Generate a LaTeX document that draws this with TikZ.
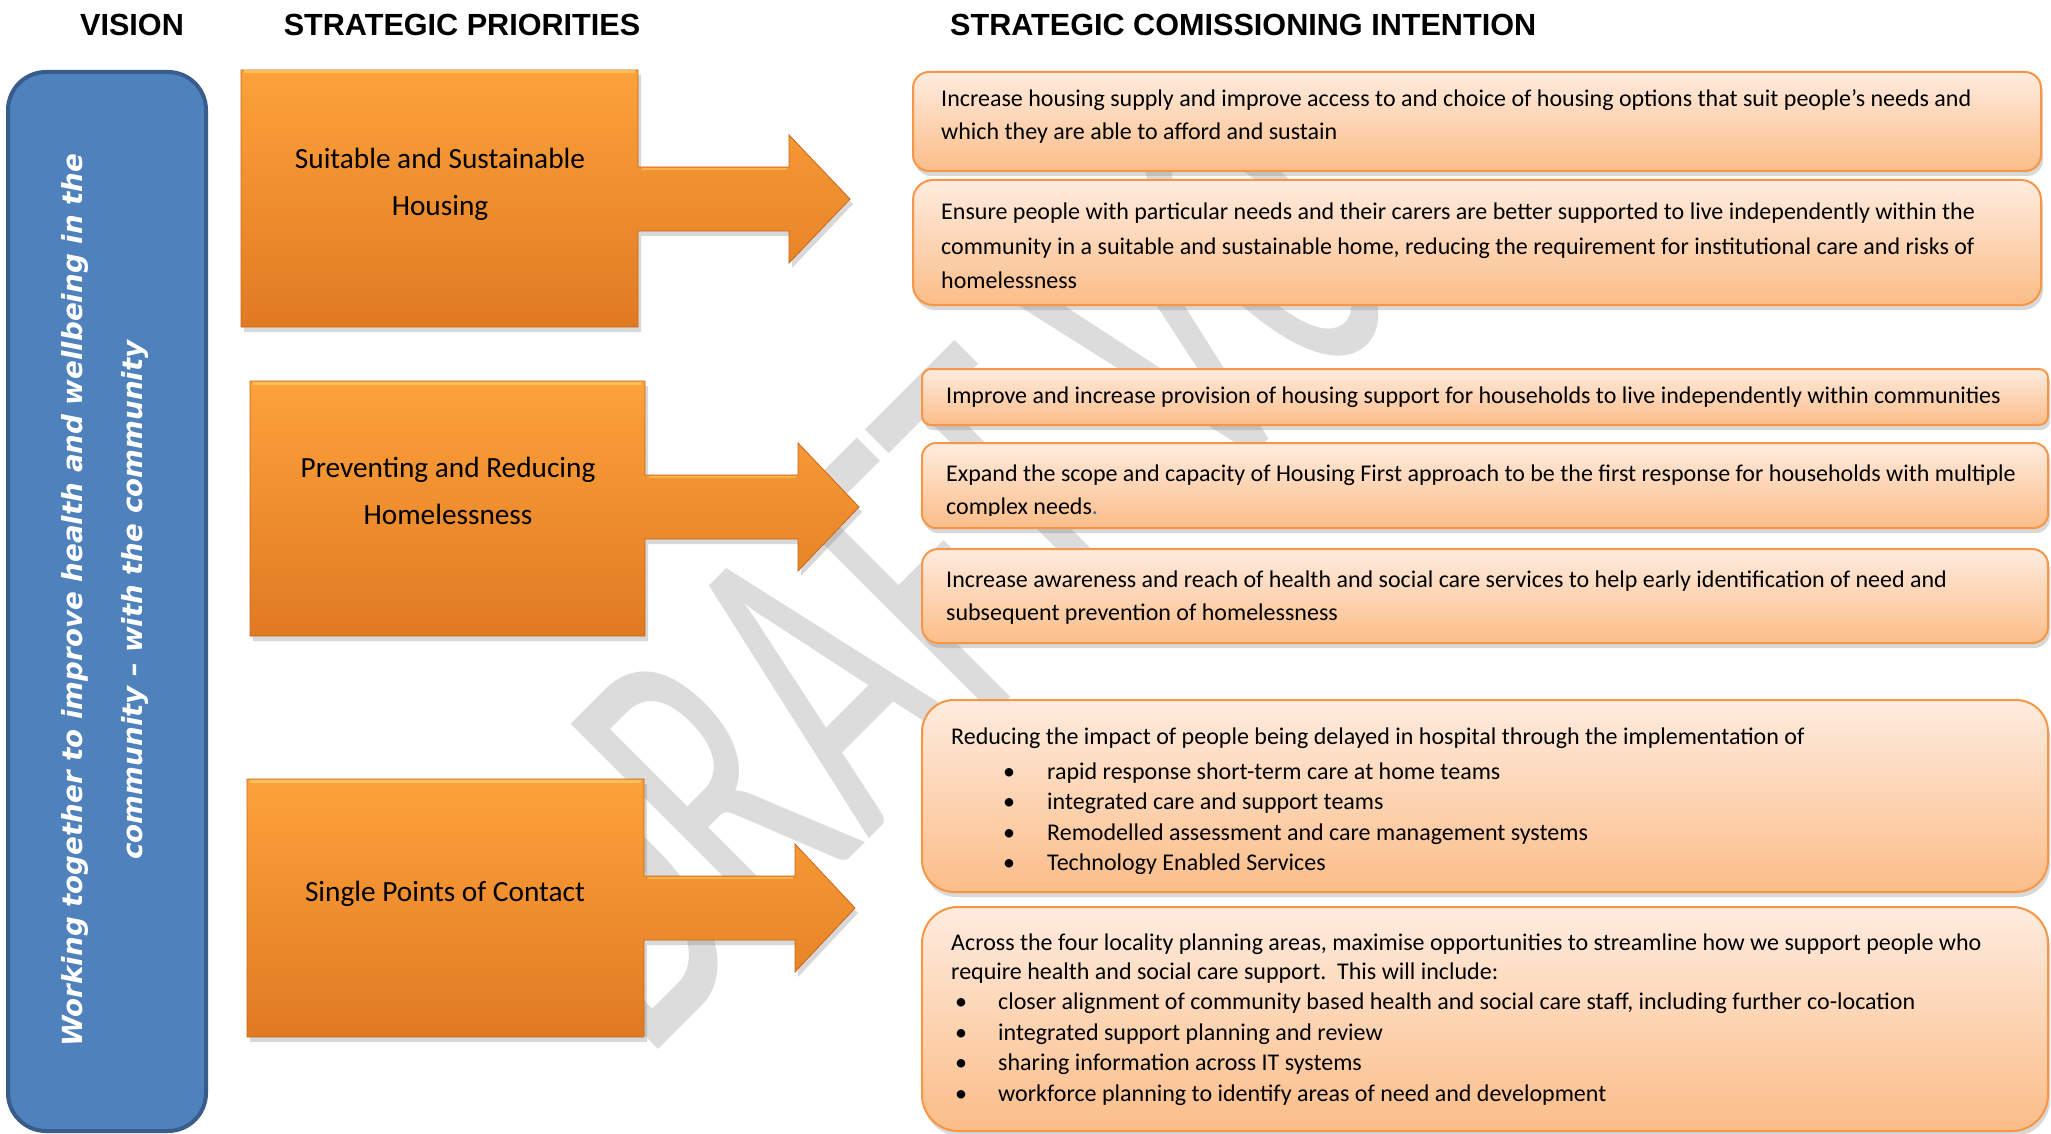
\documentclass[tikz,border=0pt]{standalone}
\usepackage{graphicx}
\usepackage{fontspec}
\setmainfont{Carlito}
\newfontfamily\hdrfont{Liberation Sans}
\newfontfamily\visfont{DejaVu Sans}
\usetikzlibrary{shadows}

\definecolor{visblue}{HTML}{4F81BD}
\definecolor{visborder}{HTML}{385D8A}
\definecolor{orTop}{HTML}{FDA23B}
\definecolor{orBot}{HTML}{E07A22}
\definecolor{orEdge}{HTML}{C8661A}
\definecolor{orHi}{HTML}{FDC862}
\definecolor{pkTop}{HTML}{FEECDF}
\definecolor{pkBot}{HTML}{FBBD88}
\definecolor{pkLine}{HTML}{F79646}
\definecolor{wmgray}{HTML}{DCDCDC}
\definecolor{dotblue}{HTML}{2E74B5}

\newcommand\prioshape[8]{%
  \path[prio] (#1,#2) -- (#3,#2) -- (#3,#5-32) -- (#6,#5-32) -- (#6,#5-64) -- (#7,#5)
    -- (#6,#5+64) -- (#6,#5+32) -- (#3,#5+32) -- (#3,#4) -- (#1,#4) -- cycle;
  \draw[orHi, line width=3, opacity=0.8] (#1+3,#2+2) -- (#3-3,#2+2);
  \draw[orHi, line width=2, opacity=0.6] (#3+4,#5-30) -- (#6-2,#5-30);
  \coordinate (#8) at (#7,#5);
}

\tikzset{
  hdr/.style={font=\hdrfont\bfseries\fontsize{30.6}{36}\selectfont, inner sep=0},
  prio/.style={top color=orTop, bottom color=orBot, draw=orEdge, line width=0.8,
    drop shadow={shadow xshift=3pt, shadow yshift=-5pt, opacity=0.3}},
  priotext/.style={font=\fontsize{29.3}{47}\selectfont, inner sep=0, anchor=base},
  tbox/.style={draw=pkLine, line width=2, top color=pkTop, bottom color=pkBot,
    drop shadow={shadow xshift=2pt, shadow yshift=-5pt, opacity=0.3}, inner sep=0},
  ttext/.style={font=\fontsize{24}{34}\selectfont, inner sep=0, anchor=base west},
}

\begin{document}
\begin{tikzpicture}[x=1pt,y=-1pt]
\useasboundingbox (0,0) rectangle (2051,1134);
\fill[white] (0,0) rectangle (2051,1134);

% watermark
\begin{scope}
\clip (0,0) rectangle (2051,1134);
\node[text=wmgray, font=\fontsize{455}{455}\selectfont, rotate=45, anchor=base west, inner sep=0]
  (wmark) at (645,1063) {\scalebox{0.6}[1]{DRAFT V0}};
\end{scope}

% headers
\node[hdr, anchor=base] (hvision) at (132,36) {VISION};
\node[hdr, anchor=base] (hprio) at (462,36) {STRATEGIC PRIORITIES};
\node[hdr, anchor=base west] (hintent) at (950,36) {STRATEGIC COMISSIONING INTENTION};

% vision box
\node[draw=visborder, line width=4, fill=visblue, rounded corners=38,
  minimum width=198, minimum height=1059, inner sep=0] (visbox) at (107,601.5) {};
\node[text=white, rotate=90, align=center,
  font=\visfont\bfseries\itshape\fontsize{27.7}{60}\selectfont] (vistext) at (105,600)
  {Working together to improve health and wellbeing in the\\community – with the community};

% priority shapes
\prioshape{241}{70}{638}{327}{199}{789}{850}{tip1}
\prioshape{250}{381}{645}{636}{507}{798}{859}{tip2}
\prioshape{247}{779}{644}{1037}{908}{795}{855}{tip3}

\node[priotext] (p1text) at (440,169) {\parbox[t]{380pt}{\centering Suitable and Sustainable\\Housing}};
\node[priotext] (p2text) at (448,477) {\parbox[t]{380pt}{\centering Preventing and Reducing\\Homelessness}};
\node[priotext] (p3text) at (445,901) {\parbox[t]{380pt}{\centering Single Points of Contact}};

% intention boxes
\node[tbox, rounded corners=16, minimum width=1128, minimum height=99] (t1) at (1477,121.5) {};
\node[tbox, rounded corners=20, minimum width=1128, minimum height=125] (t2) at (1477,242.5) {};
\node[tbox, rounded corners=9, minimum width=1126, minimum height=56] (t3) at (1485,397) {};
\node[tbox, rounded corners=14, minimum width=1126, minimum height=85] (t4) at (1485,485.5) {};
\node[tbox, rounded corners=16, minimum width=1126, minimum height=94] (t5) at (1485,596) {};
\node[tbox, rounded corners=32, minimum width=1126, minimum height=192] (t6) at (1485,796) {};
\node[tbox, rounded corners=36, minimum width=1126, minimum height=224] (t7) at (1485,1019) {};

\node[ttext, font=\fontsize{24}{33}\selectfont] (t1text) at (941,107) {\parbox[t]{1095pt}{\raggedright
  Increase housing supply and improve access to and choice of housing options that suit people’s needs and\\
  which they are able to afford and sustain}};
\node[ttext, font=\fontsize{24}{34.5}\selectfont] (t2text) at (941,220) {\parbox[t]{1095pt}{\raggedright
  Ensure people with particular needs and their carers are better supported to live independently within the\\
  community in a suitable and sustainable home, reducing the requirement for institutional care and risks of\\
  homelessness}};
\node[ttext] (t3text) at (946,403) {\parbox[t]{1095pt}{\raggedright
  Improve and increase provision of housing support for households to live independently within communities}};
\begin{scope}
\clip (922,443) rectangle (2048,515.5);
\node[ttext, font=\fontsize{24}{33}\selectfont] (t4text) at (946,481) {\parbox[t]{1095pt}{\raggedright
  Expand the scope and capacity of Housing First approach to be the first response for households with multiple\\
  complex needs{\color{dotblue}.}}};
\end{scope}
\node[ttext, font=\fontsize{24}{33}\selectfont] (t5text) at (946,587) {\parbox[t]{1095pt}{\raggedright
  Increase awareness and reach of health and social care services to help early identification of need and\\
  subsequent prevention of homelessness}};
\begin{scope}
\clip (922,700) rectangle (2048,873);
\node[ttext, font=\fontsize{24}{30.5}\selectfont] (t6text) at (951,744) {\parbox[t]{1095pt}{\raggedright
  Reducing the impact of people being delayed in hospital through the implementation of\\[4.5pt]
  \hspace*{52pt}\makebox[44pt][l]{•}rapid response short-term care at home teams\\
  \hspace*{52pt}\makebox[44pt][l]{•}integrated care and support teams\\
  \hspace*{52pt}\makebox[44pt][l]{•}Remodelled assessment and care management systems\\
  \hspace*{52pt}\makebox[44pt][l]{•}Technology Enabled Services}};
\end{scope}
\node[ttext, font=\fontsize{24}{30.5}\selectfont] (t7text) at (951,950) {\parbox[t]{1095pt}{\raggedright
  Across the four locality planning areas, maximise opportunities to streamline how we support people who\\[-1.5pt]
  require health and social care support.\ \ This will include:\\
  \hspace*{4pt}\makebox[43pt][l]{•}closer alignment of community based health and social care staff, including further co-location\\
  \hspace*{4pt}\makebox[43pt][l]{•}integrated support planning and review\\
  \hspace*{4pt}\makebox[43pt][l]{•}sharing information across IT systems\\
  \hspace*{4pt}\makebox[43pt][l]{•}workforce planning to identify areas of need and development}};
\end{tikzpicture}
\end{document}
